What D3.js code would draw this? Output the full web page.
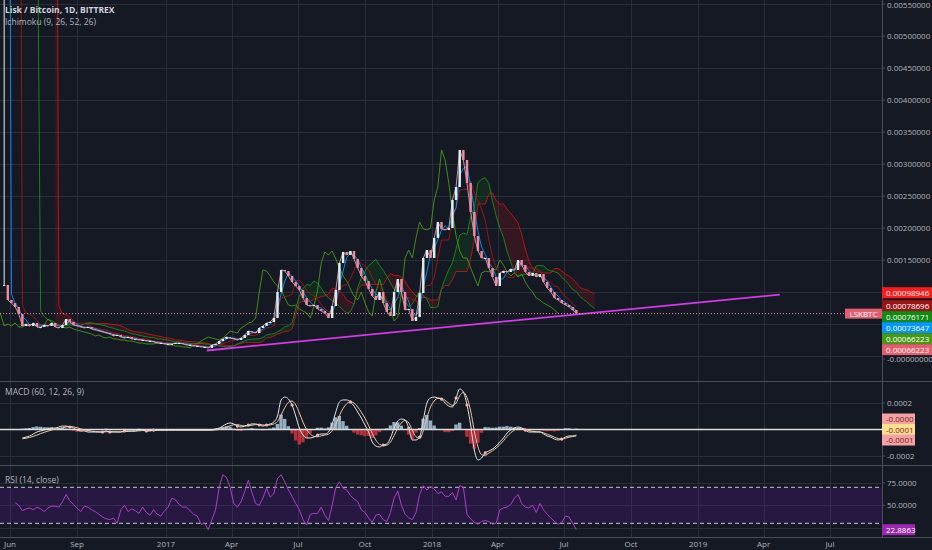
<!DOCTYPE html>
<html>
<head>
<meta charset="utf-8">
<script src="https://cdn.jsdelivr.net/npm/d3@7"></script>
<style>
html,body{margin:0;padding:0;background:#151924;overflow:hidden;}
svg{display:block;font-family:"Open Sans","Liberation Sans",sans-serif;}
</style>
</head>
<body>
<svg id="chart" width="932" height="550"></svg>
<script>
/* ============================================================================
   Lisk / Bitcoin, 1D, BITTREX — price with Ichimoku, MACD and RSI panes.

   Closes are read off the reference every 5th day. Ichimoku is built from
   those closes by its own definition (periods rescaled to the 5-day step);
   ========================================================================== */

// first bar on the chart and the spacing of the readings
var START = '2016-05-24';
var STEP_DAYS = 5;

// listing-day spike: its high is off the top of the chart
var FIRST_HIGH = 0.03;

// closes, BTC, one every STEP_DAYS from START
var CLOSE = [
  0.00111, 0.000875, 0.000828, 0.000766, 0.000656, 0.000469, 0.000500, 0.000469, 0.000516, 0.000453,
  0.000453, 0.000484, 0.000469, 0.000516, 0.000453, 0.000438, 0.000484, 0.000578, 0.000531, 0.000484,
  0.000469, 0.000453, 0.000438, 0.000453, 0.000422, 0.000406, 0.000391, 0.000375, 0.000359, 0.000344,
  0.000313, 0.000328, 0.000297, 0.000281, 0.000297, 0.000266, 0.000266, 0.000250, 0.000250, 0.000234,
  0.000234, 0.000219, 0.000203, 0.000203, 0.000188, 0.000188, 0.000188, 0.000203, 0.000203, 0.000188,
  0.000172, 0.000172, 0.000156, 0.000156, 0.000141, 0.000141, 0.000125, 0.000172, 0.000188, 0.000234,
  0.000266, 0.000297, 0.000281, 0.000266, 0.000250, 0.000281, 0.000328, 0.000391, 0.000375, 0.000359,
  0.000438, 0.000469, 0.000516, 0.000531, 0.000594, 0.001000, 0.001344, 0.001328, 0.001250, 0.001156,
  0.001094, 0.001031, 0.000906, 0.000797, 0.000781, 0.000797, 0.000734, 0.000703, 0.000672, 0.000594,
  0.000781, 0.001031, 0.001453, 0.001625, 0.001578, 0.001641, 0.001516, 0.001375, 0.001250, 0.001172,
  0.001047, 0.000938, 0.000875, 0.001000, 0.000828, 0.000688, 0.000625, 0.001000, 0.001203, 0.001000,
  0.000719, 0.000734, 0.000547, 0.000609, 0.000984, 0.001531, 0.001656, 0.001531, 0.001844, 0.002094,
  0.001984, 0.001969, 0.002000, 0.002438, 0.002641, 0.003219, 0.003063, 0.002703, 0.002250, 0.001875,
  0.001641, 0.001531, 0.001531, 0.001375, 0.001234, 0.001094, 0.001297, 0.001328, 0.001313, 0.001359,
  0.001344, 0.001500, 0.001422, 0.001313, 0.001250, 0.001297, 0.001234, 0.001281, 0.001156, 0.001063,
  0.001000, 0.000906, 0.000875, 0.000828, 0.000797, 0.000766, 0.000719, 0.00066223
];

// Ichimoku settings as written on the chart (in days)
var ICHIMOKU = [9, 26, 52, 26];

// MACD and signal lines in units of 1e-4 BTC, first value on bar MACD_FROM
var MACD_FROM = 5;
var MACD_E4 = [
  -0.64, -0.57, -0.49, -0.34, -0.19, -0.11, -0.04, 0.04, 0.11, 0.11,
  0.19, 0.26, 0.26, 0.19, 0.11, -0.04, -0.11, -0.11, -0.19, -0.19,
  -0.19, -0.19, -0.19, -0.11, -0.19, -0.19, -0.19, -0.19, -0.11, -0.11,
  -0.11, -0.11, -0.04, -0.04, -0.11, -0.11, -0.04, -0.04, -0.04, -0.04,
  -0.04, -0.04, -0.04, -0.04, -0.04, -0.04, -0.04, -0.04, -0.04, -0.04,
  -0.04, -0.04, -0.04, 0.04, 0.11, 0.26, 0.42, 0.49, 0.42, 0.26,
  0.19, 0.26, 0.34, 0.42, 0.42, 0.34, 0.26, 0.34, 0.42, 0.57,
  1.02, 2.23, 2.45, 2.30, 1.85, 1.02, 0.11, -0.42, -0.64, -0.64,
  -0.57, -0.42, -0.34, -0.34, -0.19, 0.42, 1.32, 2.08, 2.23, 2.23,
  2.08, 1.77, 1.32, 0.87, 0.34, -0.19, -0.94, -1.25, -1.32, -1.17,
  -1.09, -0.64, 0.11, 0.64, 0.79, 0.72, 0.11, -0.79, -0.79, -0.57,
  0.72, 2.00, 2.38, 2.45, 2.38, 2.30, 2.00, 1.77, 1.70, 2.38,
  3.06, 2.83, 1.85, 0.34, -1.55, -2.30, -2.15, -1.77, -1.62, -1.47,
  -1.25, -0.94, -0.64, -0.26, -0.04, 0.11, 0.19, 0.11, -0.04, -0.19,
  -0.19, -0.19, -0.19, -0.34, -0.49, -0.57, -0.72, -0.79, -0.72, -0.57,
  -0.49, -0.49, -0.42
];
var SIGNAL_E4 = [
  -0.70, -0.66, -0.60, -0.52, -0.42, -0.31, -0.21, -0.12, -0.04, 0.03,
  0.08, 0.13, 0.19, 0.22, 0.20, 0.14, 0.05, -0.03, -0.08, -0.13,
  -0.16, -0.18, -0.19, -0.17, -0.16, -0.17, -0.18, -0.18, -0.16, -0.14,
  -0.13, -0.12, -0.10, -0.08, -0.08, -0.09, -0.08, -0.07, -0.05, -0.05,
  -0.05, -0.05, -0.05, -0.05, -0.05, -0.05, -0.05, -0.05, -0.05, -0.05,
  -0.05, -0.05, -0.05, -0.03, 0.00, 0.07, 0.17, 0.28, 0.36, 0.36,
  0.31, 0.27, 0.28, 0.32, 0.37, 0.38, 0.34, 0.32, 0.35, 0.42,
  0.60, 1.10, 1.65, 2.05, 2.15, 1.85, 1.25, 0.55, 0.00, -0.35,
  -0.52, -0.55, -0.48, -0.42, -0.35, -0.10, 0.40, 1.05, 1.60, 1.95,
  2.10, 2.00, 1.70, 1.30, 0.85, 0.30, -0.30, -0.80, -1.12, -1.22,
  -1.18, -0.95, -0.45, 0.10, 0.50, 0.68, 0.50, -0.05, -0.55, -0.68,
  -0.10, 0.90, 1.70, 2.15, 2.35, 2.35, 2.20, 1.98, 1.82, 2.00,
  2.55, 2.80, 2.40, 1.40, -0.10, -1.30, -1.90, -1.95, -1.78, -1.60,
  -1.40, -1.15, -0.85, -0.52, -0.25, -0.05, 0.08, 0.10, 0.03, -0.08,
  -0.14, -0.17, -0.18, -0.25, -0.36, -0.46, -0.58, -0.68, -0.72, -0.66,
  -0.58, -0.53, -0.48
];

// RSI(14), first value on bar RSI_FROM
var RSI_FROM = 3;
var RSI = [
  53, 50, 44, 46, 47, 45, 48, 46, 43, 47,
  49, 49, 48, 54, 62, 55, 51, 47, 43, 49,
  48, 45, 43, 40, 37, 35, 34, 36, 30, 45,
  50, 43, 46, 44, 41, 48, 42, 39, 45, 40,
  38, 44, 48, 58, 56, 51, 48, 48, 44, 40,
  38, 29, 30, 23, 34, 45, 70, 84, 81, 70,
  52, 48, 54, 65, 78, 64, 52, 50, 58, 69,
  59, 63, 80, 84, 76, 67, 60, 52, 45, 34,
  28, 40, 41, 41, 48, 39, 33, 50, 70, 76,
  69, 67, 61, 57, 54, 45, 42, 36, 31, 39,
  40, 34, 32, 42, 58, 66, 50, 40, 36, 34,
  42, 62, 72, 67, 71, 68, 63, 65, 60, 60,
  64, 56, 72, 70, 40, 35, 31, 29, 32, 33,
  32, 29, 30, 45, 47, 48, 51, 58, 62, 52,
  48, 47, 50, 42, 52, 45, 40, 36, 32, 29,
  31, 38, 37, 30, 22.8863
];
var RSI_BANDS = [70, 30];

// hand-drawn support line
var TREND_DATES = ['2017-02-26', '2019-04-23'];
var TREND_VALUES = [0.000086, 0.00096];

// axes
var PRICE_TICKS = [0, 0.0005, 0.001, 0.0015, 0.002, 0.0025, 0.003, 0.0035, 0.004, 0.0045, 0.005, 0.0055];
var PRICE_TICK_LABELS = ['-0.00000000', '0.00050000', '0.00100000', '0.00150000', '0.00200000', '0.00250000',
                         '0.00300000', '0.00350000', '0.00400000', '0.00450000', '0.00500000', '0.00550000'];
var TIME_TICKS = ['2016-06-01', '2016-09-01', '2017-01-01', '2017-04-01', '2017-07-01', '2017-10-01', '2018-01-01',
                  '2018-04-01', '2018-07-01', '2018-10-01', '2019-01-01', '2019-04-01', '2019-07-01'];
var TIME_LABELS = ['Jun', 'Sep', '2017', 'Apr', 'Jul', 'Oct', '2018', 'Apr', 'Jul', 'Oct', '2019', 'Apr', 'Jul'];
var MACD_TICKS = [0.0002, -0.0002];
var MACD_TICK_LABELS = ['0.0002', '-0.0002'];
var RSI_TICKS = [75, 50];
var RSI_TICK_LABELS = ['75.0000', '50.0000'];

// last-value tags on the price scale: lead 2, base, lead 1, conversion, lagging, close
var LAST_VALUES = [0.00098946, 0.00078696, 0.00076171, 0.00073647, 0.00066223, 0.00066223];
var MACD_LAST = ['-0.0000', '-0.0001', '-0.0001'];
var SYMBOL = 'LSKBTC';

(function(){
'use strict';

var W = 932, AX = 882;
var MAIN = [0, 381], MACDP = [382, 465], RSIP = [466, 537];

var C = {
    bg:'#151924', grid:'#2a2e39', sep:'#4a4e59', text:'#b2b5be', title:'#d1d4dc',
    up:'#dcefeb', down:'#ef8a9f', closeLine:'#e6b3bf',
    tenkan:'#0496ff', kijun:'#991515', chikou:'#459915', spanA:'#1d8a1d', spanB:'#e01414',
    trend:'#d63aea', macd:'#e6e6e6', signal:'#e9c9a0', histUp:'#a3bfd6', histDn:'#c8323f',
    rsi:'#b03ccc'
};
var TAG_COLORS = ['#ff1a1a', '#991515', '#138a13', '#0496ff', '#459915', '#e35d6f'];
var MACD_TAG_COLORS = ['#f3a3a3', '#ffe08f', '#f3a3a3'];

var svg = d3.select('#chart');
var day = d3.utcParse('%Y-%m-%d');
var t0 = day(START);
function dateAt(i){ return d3.utcDay.offset(t0, i*STEP_DAYS); }

/* ------------------------------------------------------------------ scales */
var x = d3.scaleUtc([day('2016-06-01'), day('2019-07-01')], [10, 830]);
var y = d3.scaleLinear([0, 0.0055], [356, 4]);
var yM = d3.scaleLinear([-0.0002, 0.0002], [456, 403]);
var yR = d3.scaleLinear([30, 70], [523.3, 487.3]);

svg.append('rect').attr('width', W).attr('height', 550).attr('fill', C.bg);

var defs = svg.append('defs');
function clip(id, p){
    defs.append('clipPath').attr('id', id).append('rect')
        .attr('x', 0).attr('y', p[0]).attr('width', AX).attr('height', p[1]-p[0]);
    return 'url(#'+id+')';
}
var clipMain = clip('cm', MAIN), clipMacd = clip('cd', MACDP), clipRsi = clip('cr', RSIP);

/* -------------------------------------------------------------------- grid */
var grid = svg.append('g').attr('stroke', C.grid).attr('stroke-width', 1);
TIME_TICKS.forEach(function(d){
    var xx = Math.round(x(day(d))) + 0.5;
    grid.append('line').attr('x1', xx).attr('x2', xx).attr('y1', 0).attr('y2', RSIP[1]);
});
PRICE_TICKS.forEach(function(v){
    var yy = Math.round(y(v)) + 0.5;
    grid.append('line').attr('x1', 0).attr('x2', AX).attr('y1', yy).attr('y2', yy);
});
MACD_TICKS.forEach(function(v){
    var yy = Math.round(yM(v)) + 0.5;
    grid.append('line').attr('x1', 0).attr('x2', AX).attr('y1', yy).attr('y2', yy);
});
[75, 50, 25].forEach(function(v){
    var yy = Math.round(yR(v)) + 0.5;
    grid.append('line').attr('x1', 0).attr('x2', AX).attr('y1', yy).attr('y2', yy);
});

/* ------------------------------------------------------------ price + cloud */
var bars = CLOSE.map(function(c, i){
    var o = i ? CLOSE[i-1] : c;
    return { t:dateAt(i), o:o, c:c, h: i ? Math.max(o, c) : FIRST_HIGH, l: Math.min(o, c) };
});

// Ichimoku periods rescaled from days to bars
var nT = Math.round(ICHIMOKU[0]/STEP_DAYS), nK = Math.round(ICHIMOKU[1]/STEP_DAYS),
    nB = Math.round(ICHIMOKU[2]/STEP_DAYS), disp = Math.round(ICHIMOKU[3]/STEP_DAYS);
function mid(n, i){
    if (i < n-1) return null;
    var hi = -Infinity, lo = Infinity;
    for (var k=i-n+1; k<=i; k++){ hi = Math.max(hi, bars[k].h); lo = Math.min(lo, bars[k].l); }
    return (hi + lo)/2;
}
var tenkan = [], kijun = [], spanA = [], spanB = [], chikou = [];
bars.forEach(function(b, i){
    var t = mid(nT, i), k = mid(nK, i), s = mid(nB, i);
    if (t !== null) tenkan.push({ t:b.t, v:t });
    if (k !== null) kijun.push({ t:b.t, v:k });
    if (t !== null && k !== null) spanA.push({ i:i+disp, v:(t+k)/2 });
    if (s !== null) spanB.push({ i:i+disp, v:s });
    chikou.push({ t:dateAt(i-disp), v:b.c });
});
var bByI = {};
spanB.forEach(function(d){ bByI[d.i] = d.v; });
var cloud = spanA.filter(function(d){ return bByI[d.i] !== undefined; })
    .map(function(d){ return { t:dateAt(d.i), a:d.v, b:bByI[d.i] }; });
spanA = spanA.map(function(d){ return { t:dateAt(d.i), v:d.v }; });
spanB = spanB.map(function(d){ return { t:dateAt(d.i), v:d.v }; });

var gMain = svg.append('g').attr('clip-path', clipMain);
var areaG = d3.area().x(function(d){ return x(d.t); })
    .y0(function(d){ return y(d.b); }).y1(function(d){ return y(Math.max(d.a, d.b)); });
var areaR = d3.area().x(function(d){ return x(d.t); })
    .y0(function(d){ return y(d.a); }).y1(function(d){ return y(Math.max(d.a, d.b)); });
gMain.append('path').attr('d', areaG(cloud)).attr('fill', '#0f8a0f').attr('fill-opacity', 0.16);
gMain.append('path').attr('d', areaR(cloud)).attr('fill', '#d01010').attr('fill-opacity', 0.17);

var line = d3.line().x(function(d){ return x(d.t); }).y(function(d){ return y(d.v); });
[[spanB, C.spanB, 0.75], [spanA, C.spanA, 0.9], [chikou, C.chikou, 0.9],
 [kijun, C.kijun, 1], [tenkan, C.tenkan, 0.9]].forEach(function(s){
    gMain.append('path').attr('d', line(s[0])).attr('fill', 'none')
        .attr('stroke', s[1]).attr('stroke-width', 1).attr('opacity', s[2]);
});

// closes joined under the candles, so the 5-day bars read as one trace
gMain.append('path').attr('d', line(bars.slice(1).map(function(b){ return { t:b.t, v:b.c }; })))
    .attr('fill', 'none').attr('stroke', C.closeLine).attr('stroke-width', 1).attr('opacity', 0.8);

var gC = gMain.append('g');
gC.selectAll('line').data(bars).join('line')
    .attr('x1', function(b){ return x(b.t); }).attr('x2', function(b){ return x(b.t); })
    .attr('y1', function(b){ return y(b.h); }).attr('y2', function(b){ return y(b.l); })
    .attr('stroke', function(b){ return b.c >= b.o ? C.up : C.down; }).attr('stroke-width', 1);
gC.selectAll('rect').data(bars).join('rect')
    .attr('x', function(b){ return x(b.t) - 1.2; }).attr('width', 2.4)
    .attr('y', function(b){ return y(Math.max(b.o, b.c)); })
    .attr('height', function(b){ return Math.max(1, y(Math.min(b.o, b.c)) - y(Math.max(b.o, b.c))); })
    .attr('fill', function(b){ return b.c >= b.o ? C.up : C.down; });

// support line and the dotted last-price line
gMain.append('line')
    .attr('x1', x(day(TREND_DATES[0]))).attr('y1', y(TREND_VALUES[0]))
    .attr('x2', x(day(TREND_DATES[1]))).attr('y2', y(TREND_VALUES[1]))
    .attr('stroke', C.trend).attr('stroke-width', 1.8);
var lastClose = CLOSE[CLOSE.length-1];
svg.append('line').attr('x1', 0).attr('x2', AX)
    .attr('y1', y(lastClose)).attr('y2', y(lastClose))
    .attr('stroke', C.down).attr('stroke-width', 1).attr('stroke-dasharray', '1 2');

/* -------------------------------------------------------------------- MACD */
var macd = MACD_E4.map(function(m, k){
    var v = m * 1e-4, s = SIGNAL_E4[k] * 1e-4;
    return { t:dateAt(MACD_FROM + k), m:v, s:s, h:v - s };
});
var gD = svg.append('g').attr('clip-path', clipMacd);
gD.selectAll('rect').data(macd).join('rect')
    .attr('x', function(d){ return x(d.t) - 1.8; }).attr('width', 3.4)
    .attr('y', function(d){ return Math.min(yM(0), yM(d.h)); })
    .attr('height', function(d){ return Math.abs(yM(d.h) - yM(0)); })
    .attr('fill', function(d){ return d.h >= 0 ? C.histUp : C.histDn; }).attr('opacity', 0.9);
gD.append('line').attr('x1', 0).attr('x2', AX).attr('y1', yM(0)).attr('y2', yM(0))
    .attr('stroke', '#dcdcdc').attr('stroke-width', 1.5);
var lm = d3.line().x(function(d){ return x(d.t); }).curve(d3.curveMonotoneX);
gD.append('path').attr('d', lm.y(function(d){ return yM(d.s); })(macd))
    .attr('fill', 'none').attr('stroke', C.signal).attr('stroke-width', 1);
gD.append('path').attr('d', lm.y(function(d){ return yM(d.m); })(macd))
    .attr('fill', 'none').attr('stroke', C.macd).attr('stroke-width', 1);
// crossings of MACD and signal
var cross = macd.filter(function(d, k){ return k > 0 && (d.h >= 0) !== (macd[k-1].h >= 0); });
gD.selectAll('circle').data(cross).join('circle')
    .attr('cx', function(d){ return x(d.t); }).attr('cy', function(d){ return yM(d.m); })
    .attr('r', 1.6).attr('fill', '#f4b4b4');

/* --------------------------------------------------------------------- RSI */
var rsi = RSI.map(function(v, k){ return { t:dateAt(RSI_FROM + k), v:v }; });
var gR = svg.append('g').attr('clip-path', clipRsi);
gR.append('rect').attr('x', 0).attr('width', AX)
    .attr('y', yR(RSI_BANDS[0])).attr('height', yR(RSI_BANDS[1]) - yR(RSI_BANDS[0]))
    .attr('fill', '#9915ff').attr('fill-opacity', 0.13);
RSI_BANDS.forEach(function(v){
    gR.append('line').attr('x1', 0).attr('x2', AX).attr('y1', yR(v)).attr('y2', yR(v))
        .attr('stroke', '#c4c6cf').attr('stroke-width', 1).attr('stroke-dasharray', '4 3');
});
gR.append('path').attr('d', d3.line().x(function(d){ return x(d.t); }).y(function(d){ return yR(d.v); })(rsi))
    .attr('fill', 'none').attr('stroke', C.rsi).attr('stroke-width', 1);

/* -------------------------------------------------------- frames and axes */
var fr = svg.append('g').attr('stroke', C.sep).attr('stroke-width', 1);
[MAIN[1]+0.5, MACDP[1]+0.5, RSIP[1]+0.5].forEach(function(yy){
    fr.append('line').attr('x1', 0).attr('x2', W).attr('y1', yy).attr('y2', yy);
});
fr.append('line').attr('x1', AX+0.5).attr('x2', AX+0.5).attr('y1', 0).attr('y2', RSIP[1]);

// tag positions first, so tick labels hidden behind a tag are skipped
var tagY = [], prev = -Infinity;
LAST_VALUES.forEach(function(v){
    var yy = Math.max(y(v), prev + 11);
    tagY.push(yy); prev = yy;
});
function hidden(yy){
    return tagY.some(function(t){ return Math.abs(t - yy) < 9; });
}

var ax = svg.append('g').attr('font-size', 8).attr('fill', C.text);
function tick(yy, label){
    ax.append('line').attr('x1', AX).attr('x2', AX+3).attr('y1', yy).attr('y2', yy).attr('stroke', C.sep);
    ax.append('text').attr('x', AX+5).attr('y', Math.max(yy + 3, 8)).text(label);
}
PRICE_TICKS.forEach(function(v, k){
    var yy = y(v);
    if (!hidden(yy)) tick(yy, PRICE_TICK_LABELS[k]);
    else if (v === 0) tick(yy + 3, PRICE_TICK_LABELS[k]);
});
MACD_TICKS.forEach(function(v, k){ tick(yM(v), MACD_TICK_LABELS[k]); });
RSI_TICKS.forEach(function(v, k){ tick(yR(v), RSI_TICK_LABELS[k]); });
TIME_TICKS.forEach(function(d, k){
    ax.append('text').attr('x', x(day(d))).attr('y', 547).attr('text-anchor', 'middle').text(TIME_LABELS[k]);
});

// coloured last-value tags
function tag(yy, txt, bg, fg, w){
    var g = svg.append('g');
    g.append('rect').attr('x', AX).attr('y', yy - 5.5).attr('width', w).attr('height', 11).attr('fill', bg);
    g.append('text').attr('x', AX+4).attr('y', yy + 3).attr('font-size', 8).attr('fill', fg).text(txt);
}
LAST_VALUES.forEach(function(v, k){ tag(tagY[k], v.toFixed(8), TAG_COLORS[k], '#ffffff', 50); });
var ySym = y(lastClose);
svg.append('rect').attr('x', AX-37).attr('y', ySym-5).attr('width', 37).attr('height', 10).attr('fill', TAG_COLORS[5]);
svg.append('text').attr('x', AX-18.5).attr('y', ySym+3).attr('text-anchor', 'middle')
    .attr('font-size', 8).attr('fill', '#ffffff').text(SYMBOL);

MACD_LAST.forEach(function(txt, k){
    tag(yM(0) + (k-1)*10.5, txt, MACD_TAG_COLORS[k], '#7a2020', 33);
});
tag(yR(RSI[RSI.length-1]), RSI[RSI.length-1].toFixed(4), '#9c27b0', '#ffffff', 33);

/* ------------------------------------------------------------------ titles */
var tt = svg.append('g').attr('font-size', 8.5);
tt.append('text').attr('x', 5).attr('y', 13).attr('font-weight', 'bold').attr('fill', C.title)
    .text('Lisk / Bitcoin, 1D, BITTREX');
tt.append('text').attr('x', 5).attr('y', 25).attr('fill', C.text).text('Ichimoku (9, 26, 52, 26)');
tt.append('text').attr('x', 5).attr('y', 395).attr('fill', C.text).text('MACD (60, 12, 26, 9)');
tt.append('text').attr('x', 5).attr('y', 483).attr('fill', C.text).text('RSI (14, close)');
})();
</script>
</body>
</html>
